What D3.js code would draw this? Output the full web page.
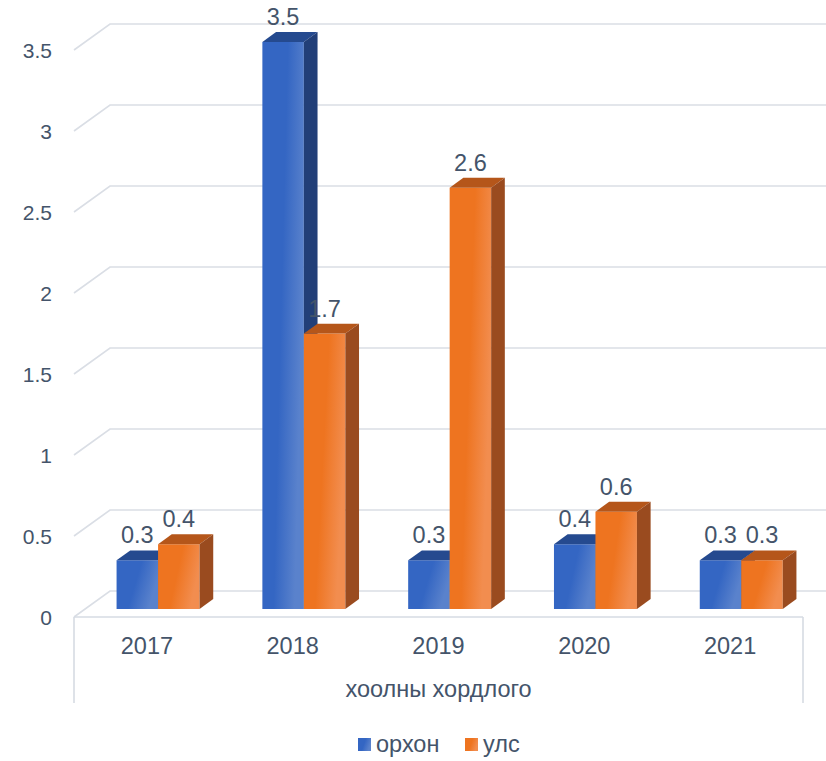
<!DOCTYPE html>
<html>
<head>
<meta charset="utf-8">
<script src="https://cdn.jsdelivr.net/npm/d3@7"></script>
<style>
    body { margin: 0; background: #fff; }
    text { font-family: "Liberation Sans", Arial, sans-serif; fill: #44546a; }
</style>
</head>
<body>
<div id="chart"></div>
<script>
var years = ['2017', '2018', '2019', '2020', '2021'];
var seriesNames = ['орхон', 'улс'];
var orkhon = [0.3, 3.5, 0.3, 0.4, 0.3];
var uls = [0.4, 1.7, 2.6, 0.6, 0.3];
var yTicks = [0, 0.5, 1, 1.5, 2, 2.5, 3, 3.5];
var axisTitle = 'хоолны хордлого';

var width = 826;
var height = 761;
var floorY = 617;       // front edge of the floor
var floorLeft = 74;
var floorRight = 803;
var depthX = 36;        // oblique shift for full depth
var depthY = 26;
var barZ = [0.31, 0.69];  // bar front/back as a fraction of the depth

var palette = {
    'орхон': {front: '#3466c3', light: '#5a82cc', top: '#254a8f', side: '#223f78'},
    'улс': {front: '#ee7420', light: '#f28d4f', top: '#b5561a', side: '#9a4b1f'}
};

var svg = d3.select('#chart').append('svg')
    .attr('width', width)
    .attr('height', height);

var x0 = d3.scaleBand()
    .domain(years)
    .range([floorLeft, floorRight]);

var x1 = d3.scaleBand()
    .domain(seriesNames)
    .range([0, x0.bandwidth()])
    .paddingOuter(0.757);

var h = d3.scaleLinear()
    .domain([0, 3.5])
    .range([0, 567]);

/**
 * Oblique projection: x along the floor, v a data value, z depth 0..1.
 */
function project(x, v, z) {
    return [x + z * depthX, floorY - h(v) - z * depthY];
}

function pathOf(points) {
    return 'M' + points.map(function (p) { return p[0] + ',' + p[1]; }).join('L') + 'Z';
}

// gradients for the front faces
var defs = svg.append('defs');
seriesNames.forEach(function (name, i) {
    var g = defs.append('linearGradient')
        .attr('id', 'grad' + i)
        .attr('x1', 0).attr('y1', 0)
        .attr('x2', 1).attr('y2', 0.35);
    g.append('stop').attr('offset', '0%').attr('stop-color', palette[name].front);
    g.append('stop').attr('offset', '55%').attr('stop-color', palette[name].front);
    g.append('stop').attr('offset', '100%').attr('stop-color', palette[name].light);
});

// gridlines: slanted on the left side wall, flat on the back wall
var grid = svg.append('g').attr('class', 'grid')
    .attr('stroke', '#dadee5')
    .attr('stroke-width', 1.6)
    .attr('fill', 'none');

grid.selectAll('path')
    .data(yTicks)
  .enter().append('path')
    .attr('d', function (d) {
        var a = project(floorLeft, d, 0);
        var b = project(floorLeft, d, 1);
        return 'M' + a + 'L' + b + 'L' + (width + 20) + ',' + b[1];
    });

// value axis labels
svg.append('g').attr('class', 'y axis')
    .selectAll('text')
    .data(yTicks)
  .enter().append('text')
    .attr('x', 52)
    .attr('y', function (d) { return project(floorLeft, d, 0)[1]; })
    .attr('dy', '0.36em')
    .attr('text-anchor', 'end')
    .attr('font-size', 21)
    .text(function (d) { return d; });

// category axis frame
var axisFrame = svg.append('g')
    .attr('stroke', '#d6dbe3')
    .attr('stroke-width', 1.6)
    .attr('fill', 'none');
axisFrame.append('line')
    .attr('x1', floorLeft).attr('y1', floorY)
    .attr('x2', floorRight).attr('y2', floorY);
axisFrame.append('line')
    .attr('x1', floorLeft).attr('y1', floorY)
    .attr('x2', floorLeft).attr('y2', 703);
axisFrame.append('line')
    .attr('x1', floorRight).attr('y1', floorY)
    .attr('x2', floorRight).attr('y2', 703);

// bars, drawn left to right so right neighbours hide the side faces
var bars = [];
years.forEach(function (year, i) {
    bars.push({year: year, series: seriesNames[0], value: orkhon[i], idx: 0});
    bars.push({year: year, series: seriesNames[1], value: uls[i], idx: 1});
});

var barG = svg.append('g').attr('class', 'bars')
    .selectAll('g')
    .data(bars)
  .enter().append('g');

function corners(d) {
    var left = x0(d.year) + x1(d.series);
    var right = left + x1.bandwidth();
    return {left: left, right: right};
}

barG.append('path')
    .attr('d', function (d) {
        var c = corners(d);
        return pathOf([
            project(c.left, 0, barZ[0]), project(c.right, 0, barZ[0]),
            project(c.right, d.value, barZ[0]), project(c.left, d.value, barZ[0])
        ]);
    })
    .attr('fill', function (d) { return 'url(#grad' + d.idx + ')'; });

barG.append('path')
    .attr('d', function (d) {
        var c = corners(d);
        return pathOf([
            project(c.left, d.value, barZ[0]), project(c.right, d.value, barZ[0]),
            project(c.right, d.value, barZ[1]), project(c.left, d.value, barZ[1])
        ]);
    })
    .attr('fill', function (d) { return palette[d.series].top; });

barG.append('path')
    .attr('d', function (d) {
        var c = corners(d);
        return pathOf([
            project(c.right, 0, barZ[0]), project(c.right, 0, barZ[1]),
            project(c.right, d.value, barZ[1]), project(c.right, d.value, barZ[0])
        ]);
    })
    .attr('fill', function (d) { return palette[d.series].side; });

// data labels, centred over the front face
svg.append('g').attr('class', 'labels')
    .selectAll('text')
    .data(bars)
  .enter().append('text')
    .attr('x', function (d) {
        var c = corners(d);
        return project((c.left + c.right) / 2, d.value, barZ[0])[0];
    })
    .attr('y', function (d) { return project(0, d.value, barZ[1])[1] - 7; })
    .attr('text-anchor', 'middle')
    .attr('font-size', 23.5)
    .text(function (d) { return d.value; });

// category labels
svg.append('g').attr('class', 'x axis')
    .selectAll('text')
    .data(years)
  .enter().append('text')
    .attr('x', function (d) { return x0(d) + x0.bandwidth() / 2; })
    .attr('y', 654)
    .attr('text-anchor', 'middle')
    .attr('font-size', 23.5)
    .text(function (d) { return d; });

svg.append('text')
    .attr('x', (floorLeft + floorRight) / 2)
    .attr('y', 697)
    .attr('text-anchor', 'middle')
    .attr('font-size', 23.5)
    .text(axisTitle);

// legend
var legendX = [358, 465];
var legend = svg.append('g').attr('class', 'legend')
    .selectAll('g')
    .data(seriesNames)
  .enter().append('g')
    .attr('transform', function (d, i) { return 'translate(' + legendX[i] + ',738)'; });

legend.append('rect')
    .attr('width', 13)
    .attr('height', 13)
    .attr('fill', function (d, i) { return 'url(#grad' + i + ')'; });

legend.append('text')
    .attr('x', 18)
    .attr('y', 14)
    .attr('font-size', 23.5)
    .text(function (d) { return d; });
</script>
</body>
</html>
